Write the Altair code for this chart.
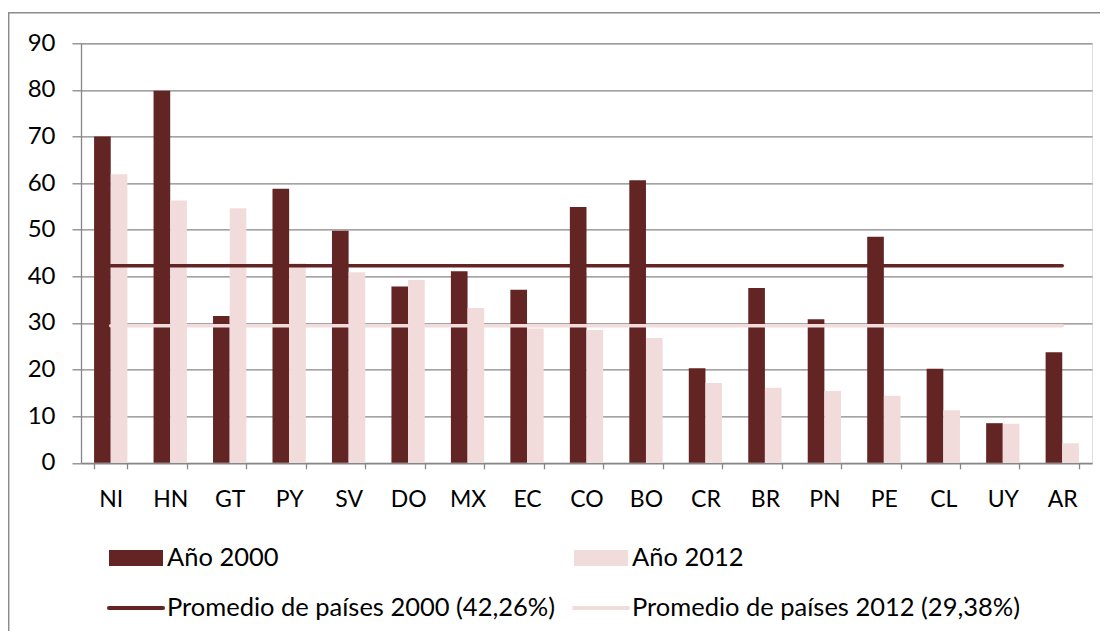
import altair as alt
import pandas as pd

countries = ["NI", "HN", "GT", "PY", "SV", "DO", "MX", "EC", "CO", "BO",
             "CR", "BR", "PN", "PE", "CL", "UY", "AR"]
v2000 = [70.0, 79.8, 31.5, 58.8, 49.8, 37.8, 41.1, 37.1, 54.9, 60.6,
         20.3, 37.5, 30.8, 48.5, 20.2, 8.5, 23.7]
v2012 = [61.9, 56.3, 54.6, 42.8, 40.9, 39.2, 33.2, 28.8, 28.5, 26.8,
         17.1, 16.1, 15.4, 14.4, 11.3, 8.4, 4.2]
avg2000 = 42.26
avg2012 = 29.38
years = ["2000", "2012"]
legend_labels = ["Año 2000", "Año 2012",
                 "Promedio de países 2000 (42,26%)",
                 "Promedio de países 2012 (29,38%)"]

C2000 = "#632523"
C2012 = "#F2DCDB"
GRID = "#868686"
FONT = "Lato"

rows = []
for c, a, b in zip(countries, v2000, v2012):
    rows.append({"pais": c, "anio": "2000", "valor": a})
    rows.append({"pais": c, "anio": "2012", "valor": b})
bars_df = pd.DataFrame(rows)

avg_df = pd.DataFrame([
    {"pais": countries[0], "serie": "2000", "valor": avg2000},
    {"pais": countries[-1], "serie": "2000", "valor": avg2000},
    {"pais": countries[0], "serie": "2012", "valor": avg2012},
    {"pais": countries[-1], "serie": "2012", "valor": avg2012},
])

W, H = 1011, 419.5

xscale = alt.Scale(domain=countries, paddingInner=0.44, paddingOuter=0.22)
yscale = alt.Scale(domain=[0, 90], nice=False)

bars = alt.Chart(bars_df).mark_bar().encode(
    x=alt.X("pais:N", scale=xscale, sort=countries, title=None,
            axis=alt.Axis(labelAngle=0, tickBand="extent", tickSize=6,
                          tickColor=GRID, tickWidth=1.3, domainColor=GRID,
                          domainWidth=1.3, labelPadding=20, labelFont=FONT,
                          labelFontSize=23, labelColor="black", grid=False)),
    xOffset=alt.XOffset("anio:N", scale=alt.Scale(domain=years, paddingInner=0,
                                                  paddingOuter=0)),
    y=alt.Y("valor:Q", scale=yscale, title=None,
            axis=alt.Axis(values=list(range(0, 91, 10)), tickSize=9,
                          tickColor=GRID, tickWidth=1.3, domainColor=GRID,
                          domainWidth=1.3, gridColor=GRID, gridWidth=1.3,
                          labelPadding=17, labelFont=FONT, labelFontSize=24,
                          labelColor="black")),
    color=alt.Color("anio:N", scale=alt.Scale(domain=years, range=[C2000, C2012]),
                    legend=None),
)

lines = alt.Chart(avg_df).mark_line(strokeWidth=3.5, strokeCap="round").encode(
    x=alt.X("pais:N", scale=xscale, sort=countries),
    y=alt.Y("valor:Q", scale=yscale),
    detail="serie:N",
    color=alt.Color("serie:N", scale=alt.Scale(domain=years, range=[C2000, C2012]),
                    legend=None),
)

# Frame
frame_left = alt.Chart(alt.Data(values=[{"k": 1}])).mark_rule(
    color="#8c8c8c", strokeWidth=1.5).encode(
    x=alt.value(-72.3), y=alt.value(-30.6), y2=alt.value(700))
frame_top = alt.Chart(alt.Data(values=[{"k": 1}])).mark_rule(
    color="#8c8c8c", strokeWidth=1.5).encode(
    x=alt.value(-73), x2=alt.value(1100), y=alt.value(-30.6))

# Legend
def leg_rect(x0, x1, color):
    return alt.Chart(alt.Data(values=[{"k": 1}])).mark_rect(color=color).encode(
        x=alt.value(x0), x2=alt.value(x1), y=alt.value(506.7), y2=alt.value(522.7))

def leg_line(x0, x1, color):
    return alt.Chart(alt.Data(values=[{"k": 1}])).mark_rule(
        color=color, strokeWidth=4, strokeCap="round").encode(
        x=alt.value(x0), x2=alt.value(x1), y=alt.value(564.7))

def leg_text(label, x, y):
    return alt.Chart(alt.Data(values=[{"label": label}])).mark_text(
        align="left", baseline="middle", font=FONT, fontSize=25.5, color="black"
    ).encode(text="label:N", x=alt.value(x), y=alt.value(y))

legend = [
    leg_rect(28, 82, C2000),
    leg_rect(493, 547, C2012),
    leg_line(28, 82, C2000),
    leg_line(493, 547, C2012),
    leg_text(legend_labels[0], 86, 515),
    leg_text(legend_labels[1], 551, 515),
    leg_text(legend_labels[2], 86, 565),
    leg_text(legend_labels[3], 551, 565),
]

chart = alt.layer(bars, lines, frame_left, frame_top, *legend).properties(
    width=W, height=H,
    autosize=alt.AutoSizeParams(type="none"),
    padding={"left": 73, "top": 35.3, "right": 8, "bottom": 168},
).configure_view(stroke=None).configure(background="white")

chart.save("out.html", embed_options={"renderer": "svg", "actions": False})
